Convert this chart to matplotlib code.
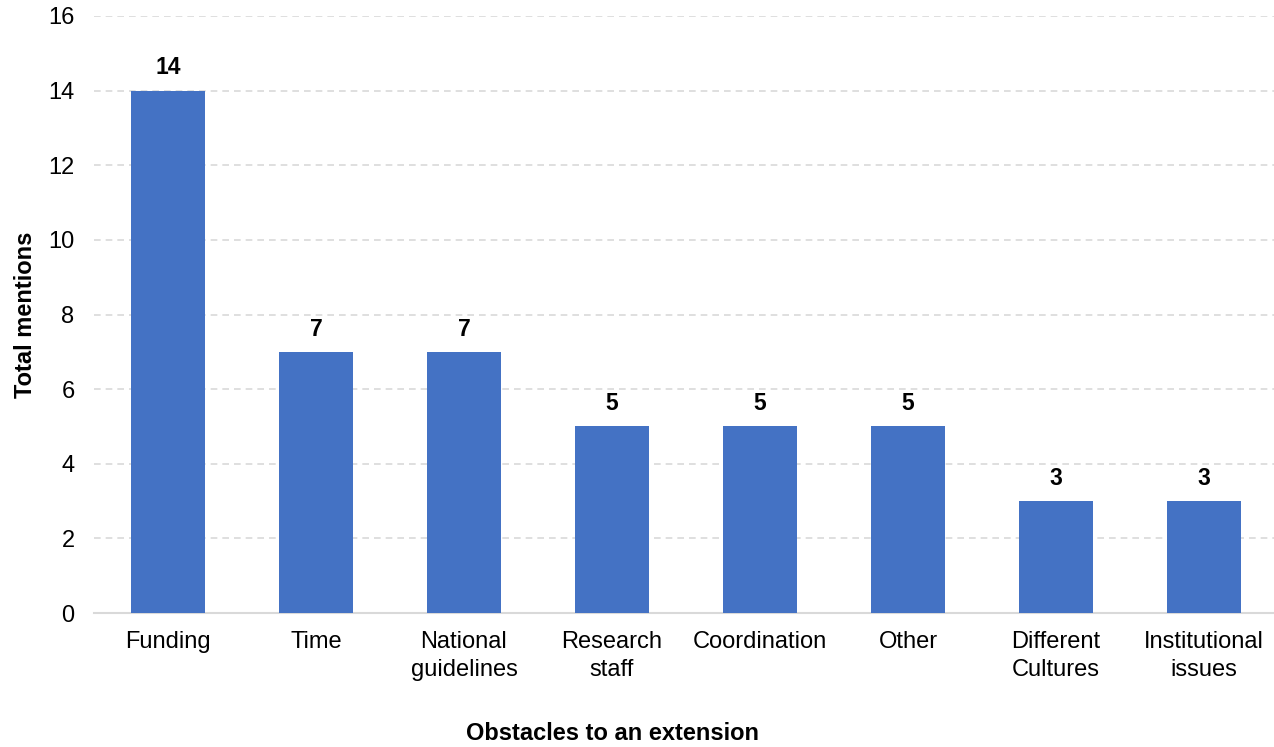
import matplotlib
matplotlib.use("Agg")
import matplotlib.pyplot as plt

categories = ["Funding", "Time", "National\nguidelines", "Research\nstaff",
              "Coordination", "Other", "Different\nCultures", "Institutional\nissues"]
mentions = [14, 7, 7, 5, 5, 5, 3, 3]
y_ticks = [0, 2, 4, 6, 8, 10, 12, 14, 16]

plt.rcParams["font.family"] = ["Liberation Sans", "DejaVu Sans"]

W, H = 1274, 747
fig = plt.figure(figsize=(W / 100, H / 100), dpi=100)
ax = fig.add_axes([94 / W, (H - 613) / H, 1184 / W, 597 / H])

x = range(len(categories))
ax.bar(x, mentions, width=0.5, color="#4472C4", zorder=3)

for xi, v in zip(x, mentions):
    ax.text(xi, v + 0.3, str(v), ha="center", va="bottom",
            fontsize=16.5, fontweight="bold", color="black")

ax.set_xlim(-0.5, len(categories) - 0.5)
ax.set_ylim(0, 16)
ax.set_yticks(y_ticks)
ax.set_xticks(list(x))
ax.set_xticklabels(categories, fontsize=17, linespacing=1.35)
ax.tick_params(axis="y", labelsize=17, length=0, pad=14)
ax.tick_params(axis="x", length=0, pad=13)

ax.yaxis.grid(True, color="#d9d9d9", linestyle=(0, (4, 3)), linewidth=1.2, zorder=0)
for side in ("top", "right", "left"):
    ax.spines[side].set_visible(False)
ax.spines["bottom"].set_color("#d9d9d9")
ax.spines["bottom"].set_linewidth(1.5)

fig.text(26 / W, (H - 315) / H, "Total mentions", rotation=90,
         ha="center", va="center", fontsize=17, fontweight="bold")
fig.text(613 / W, (H - 734) / H, "Obstacles to an extension",
         ha="center", va="center", fontsize=17, fontweight="bold")

fig.savefig("out.png", dpi=100)
